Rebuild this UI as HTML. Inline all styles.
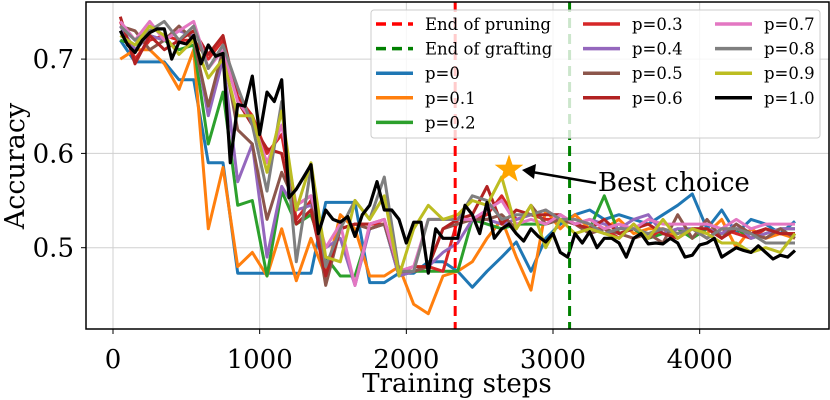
<!DOCTYPE html>
<html><head><meta charset="utf-8"><style>
body{margin:0;background:#fff;}
svg{display:block;font-family:"DejaVu Serif","Liberation Serif",serif;}
</style></head><body>
<svg id="chart" width="830" height="400"></svg>
<script>
const stepsCoarse=[];for(let s=50;s<=4650;s+=100)stepsCoarse.push(s);
const stepsFine=[];for(let s=50;s<=4650;s+=50)stepsFine.push(s);
const xTicks=[0,1000,2000,3000,4000];
const yTicks=[0.5,0.6,0.7];
const yTickLabels=["0.5","0.6","0.7"];
const pruneStep=2333, graftStep=3113;
const bestStep=2700, bestAcc=0.583;
const p0=[0.72,0.697,0.697,0.697,0.678,0.678,0.59,0.59,0.473,0.473,0.473,0.473,0.473,0.473,0.548,0.548,0.548,0.463,0.463,0.473,0.473,0.485,0.485,0.475,0.458,0.475,0.49,0.506,0.475,0.51,0.525,0.535,0.54,0.53,0.535,0.53,0.525,0.535,0.545,0.557,0.52,0.54,0.515,0.53,0.525,0.515,0.528];
const p01=[0.70,0.71,0.71,0.695,0.668,0.71,0.52,0.585,0.48,0.495,0.47,0.52,0.465,0.51,0.47,0.535,0.52,0.47,0.47,0.48,0.44,0.43,0.47,0.475,0.485,0.51,0.53,0.49,0.455,0.54,0.52,0.535,0.52,0.52,0.53,0.515,0.52,0.52,0.51,0.52,0.515,0.53,0.5,0.52,0.51,0.515,0.51];
const p02=[0.72,0.715,0.725,0.72,0.71,0.715,0.61,0.665,0.545,0.55,0.47,0.56,0.525,0.535,0.49,0.47,0.47,0.52,0.525,0.47,0.475,0.475,0.475,0.475,0.53,0.525,0.52,0.525,0.525,0.525,0.53,0.525,0.52,0.555,0.515,0.52,0.51,0.515,0.52,0.51,0.52,0.515,0.52,0.51,0.515,0.52,0.52];
const p03=[0.74,0.70,0.72,0.725,0.72,0.72,0.70,0.72,0.66,0.64,0.60,0.62,0.53,0.55,0.47,0.52,0.525,0.525,0.525,0.475,0.475,0.48,0.475,0.53,0.53,0.535,0.555,0.53,0.535,0.53,0.53,0.525,0.52,0.52,0.51,0.525,0.51,0.52,0.515,0.52,0.51,0.52,0.515,0.51,0.52,0.515,0.515];
const p04=[0.735,0.71,0.725,0.72,0.73,0.725,0.64,0.70,0.57,0.61,0.49,0.565,0.54,0.545,0.5,0.51,0.46,0.52,0.525,0.47,0.475,0.48,0.495,0.505,0.53,0.53,0.525,0.53,0.535,0.54,0.53,0.525,0.53,0.525,0.52,0.53,0.535,0.515,0.52,0.52,0.52,0.515,0.525,0.51,0.515,0.52,0.52];
const p05=[0.735,0.73,0.71,0.72,0.735,0.72,0.65,0.71,0.625,0.61,0.53,0.58,0.545,0.555,0.46,0.52,0.525,0.52,0.525,0.475,0.475,0.48,0.52,0.525,0.53,0.53,0.535,0.52,0.545,0.525,0.53,0.525,0.515,0.52,0.515,0.51,0.515,0.505,0.535,0.51,0.53,0.51,0.525,0.515,0.51,0.52,0.51];
const p06=[0.745,0.695,0.725,0.71,0.72,0.73,0.705,0.725,0.655,0.63,0.605,0.60,0.525,0.54,0.47,0.52,0.525,0.525,0.53,0.475,0.48,0.48,0.52,0.53,0.535,0.565,0.525,0.54,0.535,0.535,0.535,0.525,0.52,0.53,0.515,0.52,0.525,0.515,0.51,0.52,0.52,0.51,0.52,0.515,0.52,0.515,0.515];
const p07=[0.74,0.72,0.74,0.72,0.73,0.74,0.69,0.71,0.655,0.635,0.59,0.63,0.545,0.555,0.50,0.525,0.46,0.525,0.53,0.475,0.48,0.53,0.53,0.53,0.53,0.54,0.55,0.525,0.53,0.525,0.535,0.525,0.53,0.52,0.525,0.52,0.53,0.525,0.525,0.525,0.525,0.52,0.53,0.52,0.525,0.525,0.525];
const p08=[0.735,0.72,0.73,0.74,0.72,0.735,0.69,0.715,0.67,0.63,0.56,0.655,0.485,0.585,0.48,0.52,0.55,0.53,0.575,0.475,0.475,0.53,0.53,0.53,0.555,0.55,0.53,0.535,0.535,0.54,0.53,0.53,0.525,0.515,0.52,0.52,0.515,0.52,0.515,0.52,0.51,0.52,0.52,0.515,0.505,0.505,0.505];
const p09=[0.725,0.715,0.735,0.725,0.705,0.72,0.68,0.70,0.64,0.64,0.58,0.645,0.54,0.59,0.49,0.485,0.55,0.53,0.555,0.47,0.52,0.545,0.53,0.535,0.55,0.545,0.575,0.52,0.545,0.50,0.53,0.515,0.52,0.515,0.51,0.525,0.51,0.53,0.51,0.52,0.515,0.505,0.505,0.495,0.5,0.495,0.515];
const p10=[0.73,0.715,0.707,0.72,0.728,0.732,0.732,0.70,0.718,0.716,0.725,0.695,0.715,0.703,0.706,0.59,0.652,0.65,0.682,0.62,0.665,0.655,0.678,0.553,0.562,0.575,0.588,0.515,0.54,0.53,0.527,0.533,0.512,0.535,0.545,0.57,0.54,0.54,0.53,0.505,0.527,0.527,0.473,0.52,0.51,0.51,0.51,0.545,0.535,0.515,0.548,0.51,0.52,0.525,0.515,0.507,0.52,0.512,0.506,0.515,0.495,0.49,0.515,0.505,0.517,0.5,0.51,0.51,0.505,0.49,0.51,0.515,0.504,0.505,0.504,0.51,0.505,0.49,0.492,0.503,0.505,0.51,0.49,0.495,0.5,0.497,0.495,0.502,0.495,0.488,0.492,0.49,0.497];

const L=86,R=829,T=2,B=329;
const X=s=>113+(s)*0.14667;
const Y=v=>247.7-(v-0.5)*943;
const svg=document.getElementById('chart');
const NS='http://www.w3.org/2000/svg';
function mk(tag,attrs,parent){const e=document.createElementNS(NS,tag);for(const k in attrs)e.setAttribute(k,attrs[k]);(parent||svg).appendChild(e);return e;}

xTicks.forEach(t=>{const g=mk('line',{x1:X(t),x2:X(t),y1:T,y2:B,stroke:'#d0d0d0','stroke-width':1});

});
yTicks.forEach(t=>{const g=mk('line',{x1:L,x2:R,y1:Y(t),y2:Y(t),stroke:'#d0d0d0','stroke-width':1});

});

const clip=mk('clipPath',{id:'pc'});mk('rect',{x:L,y:T,width:R-L,height:B-T},clip);
const plot=mk('g',{'clip-path':'url(#pc)'});



const series=[
 {name:'p=0',c:'#1f77b4',d:p0,s:stepsCoarse},
 {name:'p=0.1',c:'#ff7f0e',d:p01,s:stepsCoarse},
 {name:'p=0.2',c:'#2ca02c',d:p02,s:stepsCoarse},
 {name:'p=0.3',c:'#d62728',d:p03,s:stepsCoarse},
 {name:'p=0.4',c:'#9467bd',d:p04,s:stepsCoarse},
 {name:'p=0.5',c:'#8c564b',d:p05,s:stepsCoarse},
 {name:'p=0.6',c:'#b22222',d:p06,s:stepsCoarse},
 {name:'p=0.7',c:'#e377c2',d:p07,s:stepsCoarse},
 {name:'p=0.8',c:'#7f7f7f',d:p08,s:stepsCoarse},
 {name:'p=0.9',c:'#bcbd22',d:p09,s:stepsCoarse},
 {name:'p=1.0',c:'#000000',d:p10,s:stepsFine}
];
series.forEach(sr=>{
 const pts=sr.d.map((v,i)=>X(sr.s[i]).toFixed(1)+','+Y(v).toFixed(1)).join(' ');
 const pl=mk('polyline',{points:pts,fill:'none',stroke:sr.c,'stroke-width':sr.name==='p=1.0'?3.2:3,'stroke-linejoin':'round'},plot);
 
 
});
const pr=mk('line',{x1:X(pruneStep),x2:X(pruneStep),y1:T,y2:B,stroke:'#ff0000','stroke-width':3,'stroke-dasharray':'10,6'},plot);


const gr=mk('line',{x1:X(graftStep),x2:X(graftStep),y1:T,y2:B,stroke:'#008000','stroke-width':3,'stroke-dasharray':'10,6'},plot);



(function(){const cx=X(bestStep),cy=Y(bestAcc),ro=15,ri=6;let p=[];
for(let i=0;i<10;i++){const r=i%2?ri:ro;const a=-Math.PI/2+i*Math.PI/5;p.push((cx+r*Math.cos(a)).toFixed(1)+','+(cy+r*Math.sin(a)).toFixed(1));}
const st=mk('polygon',{points:p.join(' '),fill:'#ffa500'});


const ar=mk('line',{x1:596,y1:183,x2:532,y2:172,stroke:'#000','stroke-width':2.5});


const ah=mk('polygon',{points:'522,170 536,164 534,179',fill:'#000'});


const tx=mk('text',{x:598,y:191,'font-size':26,fill:'#000'});tx.textContent='Best choice';


})();

const fr=mk('rect',{x:L,y:T,width:R-L,height:B-T,fill:'none',stroke:'#000','stroke-width':1.5});



xTicks.forEach(t=>{mk('line',{x1:X(t),x2:X(t),y1:B,y2:B+5,stroke:'#000'});
 const tx=mk('text',{x:X(t),y:368,'font-size':26,'text-anchor':'middle'});tx.textContent=t;
 
 });
yTicks.forEach((t,i)=>{mk('line',{x1:L-5,x2:L,y1:Y(t),y2:Y(t),stroke:'#000'});
 const tx=mk('text',{x:74,y:Y(t)+9,'font-size':26,'text-anchor':'end'});tx.textContent=yTickLabels[i];
 
 });

const xt=mk('text',{x:457,y:392,'font-size':26,'text-anchor':'middle'});xt.textContent='Training steps';


const yt=mk('text',{x:0,y:0,'font-size':27,'text-anchor':'middle',transform:'translate(24,166) rotate(-90)'});yt.textContent='Accuracy';



const lg=mk('g',{});


mk('rect',{x:371,y:10,width:449,height:128,rx:3,fill:'rgba(255,255,255,0.8)',stroke:'#ccc'},lg);
const entries=[
 {t:'End of pruning',c:'#ff0000',dash:true,col:0,row:0},
 {t:'End of grafting',c:'#008000',dash:true,col:0,row:1},
 {t:'p=0',c:'#1f77b4',col:0,row:2},{t:'p=0.1',c:'#ff7f0e',col:0,row:3},{t:'p=0.2',c:'#2ca02c',col:0,row:4},
 {t:'p=0.3',c:'#d62728',col:1,row:0},{t:'p=0.4',c:'#9467bd',col:1,row:1},{t:'p=0.5',c:'#8c564b',col:1,row:2},{t:'p=0.6',c:'#b22222',col:1,row:3},
 {t:'p=0.7',c:'#e377c2',col:2,row:0},{t:'p=0.8',c:'#7f7f7f',col:2,row:1},{t:'p=0.9',c:'#bcbd22',col:2,row:2},{t:'p=1.0',c:'#000',col:2,row:3}
];
const colX=[376,583,715];
entries.forEach(e=>{const x=colX[e.col],y=24+e.row*24.6;
 const g=mk('g',{},lg);
 
 
 const a={x1:x,x2:x+37,y1:y,y2:y,stroke:e.c,'stroke-width':3.5};
 if(e.dash)a['stroke-dasharray']='10,6';
 mk('line',a,g);
 const tx=mk('text',{x:x+49,y:y+6,'font-size':16.5},g);tx.textContent=e.t;});
</script>
</body></html>
